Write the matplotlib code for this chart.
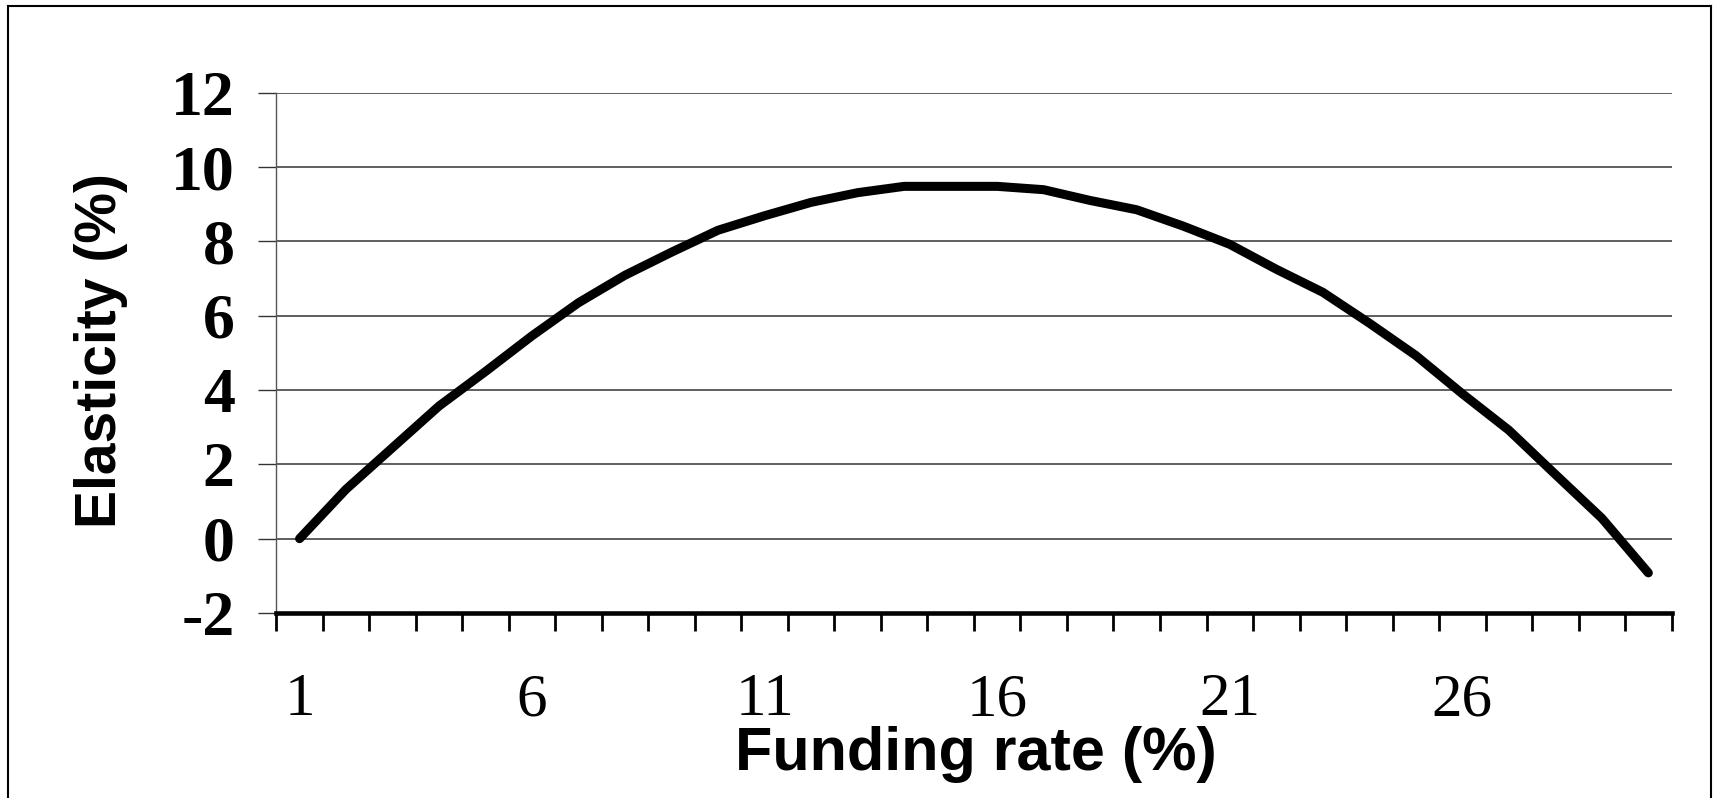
import matplotlib.pyplot as plt
from matplotlib.lines import Line2D

plt.rcParams['axes.unicode_minus'] = False

# funding rate categories (%) and elasticity values
funding_rate = list(range(1, 31))
elasticity = [0.0, 1.33, 2.45, 3.57, 4.5, 5.46, 6.35, 7.09, 7.71, 8.3,
              8.69, 9.05, 9.31, 9.48, 9.48, 9.48, 9.39, 9.1, 8.85, 8.41,
              7.92, 7.25, 6.63, 5.8, 4.93, 3.9, 2.92, 1.73, 0.55, -0.92]
x_labels = [1, 6, 11, 16, 21, 26]
y_ticks = [-2, 0, 2, 4, 6, 8, 10, 12]

W, H = 1713, 798
fig = plt.figure(figsize=(W / 100, H / 100), dpi=100)
ax = fig.add_axes([276.3 / W, 1 - 613 / H, (1671.6 - 276.3) / W, (613 - 92.7) / H])

# outer frame (open at the bottom, like the original)
fx0, fx1, fy = 8 / W, 1710.5 / W, 1 - 6 / H
for xs, ys in [([fx0, fx0], [0, fy]), ([fx0, fx1], [fy, fy]), ([fx1, fx1], [fy, 0])]:
    fig.add_artist(Line2D(xs, ys, transform=fig.transFigure, color='black', lw=1.5))

ax.plot(funding_rate, elasticity, color='black', lw=6.5, solid_capstyle='round',
        solid_joinstyle='round', zorder=3)

ax.set_xlim(0.5, 30.5)
ax.set_ylim(-2, 12)
ax.set_yticks(y_ticks)
ax.grid(axis='y', color='#333333', lw=1.1)
ax.set_axisbelow(True)

ax.spines['top'].set_visible(False)
ax.spines['right'].set_visible(False)
ax.spines['left'].set_color('#555555')
ax.spines['left'].set_linewidth(1)
ax.spines['bottom'].set_color('black')
ax.spines['bottom'].set_linewidth(3.3)
ax.spines['bottom'].set_zorder(4)

serif = ['Liberation Serif', 'DejaVu Serif']
sans = ['Liberation Sans', 'DejaVu Sans']

ax.tick_params(axis='y', direction='out', length=13, width=1, color='#333333', pad=17)
for lab in ax.get_yticklabels():
    lab.set_fontfamily(serif)
    lab.set_fontweight('bold')
    lab.set_fontsize(46)

# category boundary ticks, labels every 5 categories
ax.set_xticks([i + 0.5 for i in range(0, 31)], minor=True)
ax.set_xticks(x_labels)
ax.set_xticklabels([str(v) for v in x_labels], fontfamily=serif, fontsize=44)
ax.tick_params(axis='x', which='major', length=0, pad=43)
ax.tick_params(axis='x', which='minor', direction='out', length=13, width=2, color='black')

fig.text(975.6 / W, 1 - 770 / H, 'Funding rate (%)', family=sans, fontweight='bold',
         fontsize=44, ha='center', va='baseline')
fig.text(101 / W, 1 - 351 / H, 'Elasticity (%)', family=sans, fontweight='bold',
         fontsize=41, ha='center', va='center', rotation=90)

fig.savefig('out.png', dpi=100, facecolor='white')
